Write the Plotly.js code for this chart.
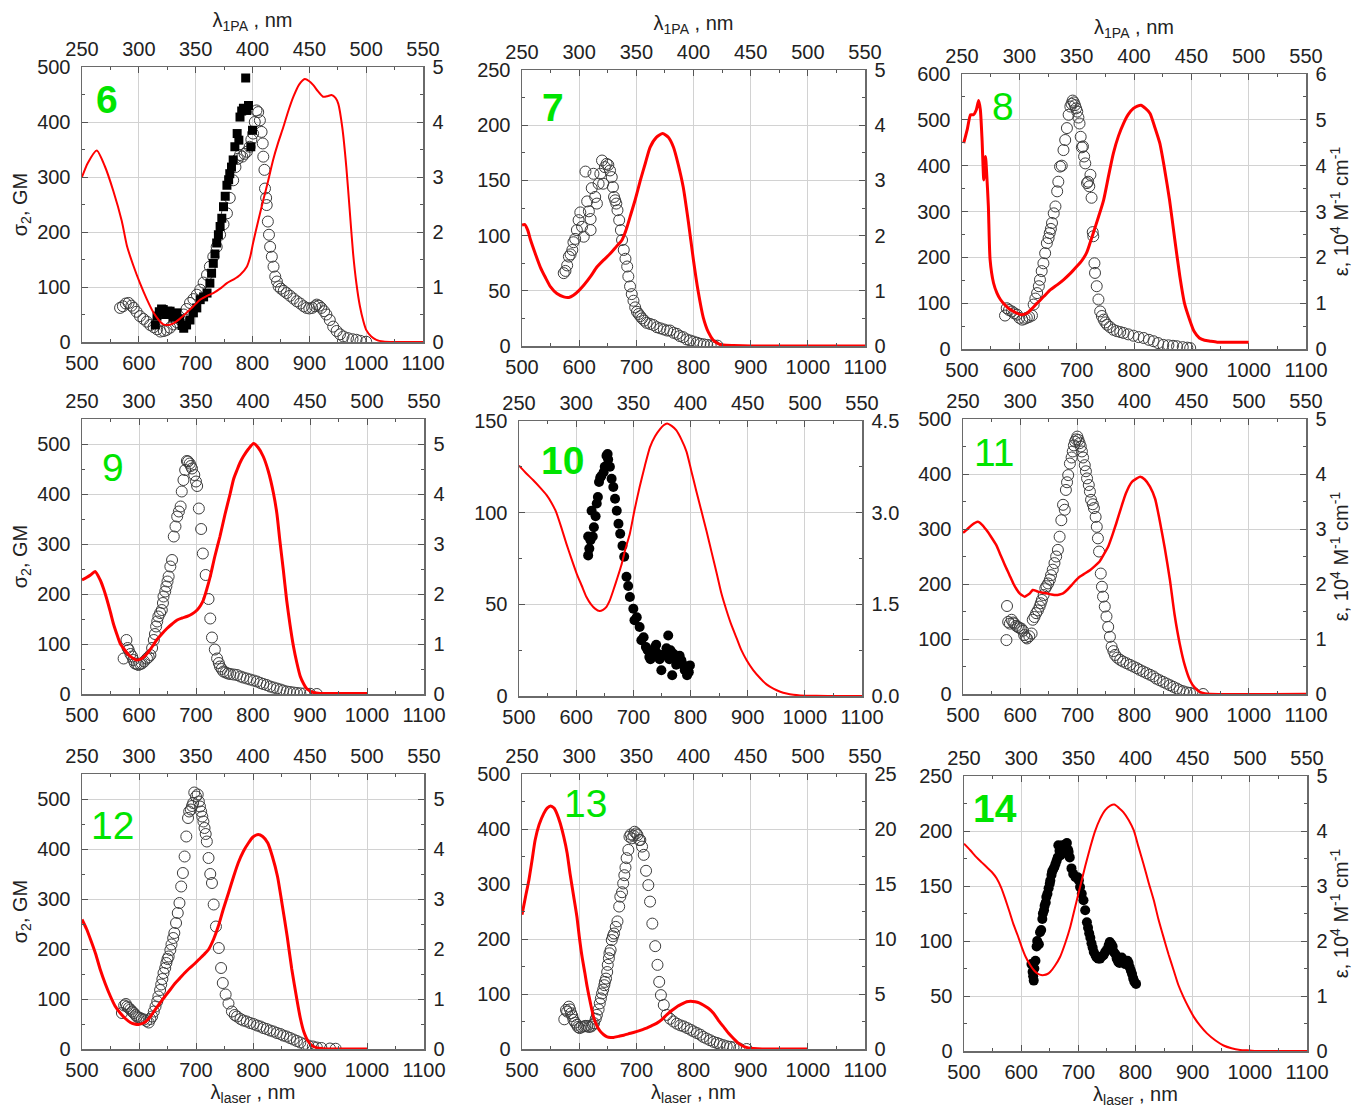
<!DOCTYPE html>
<html><head><meta charset="utf-8">
<script src="https://cdn.plot.ly/plotly-3.0.1.min.js"></script>
<style>html,body{margin:0;padding:0;background:#fff}#chart{width:1352px;height:1108px}</style>
</head><body><div id="chart"></div>
<script>
// ---------- DATA (red: lambda_1PA nm vs epsilon, 10^4 M-1 cm-1; markers: lambda_laser nm vs sigma2, GM) ----------
const p6_red_x = [250,255,263,270,277.5,285,289.5,295,301,307,313,317.5,321.5,326,330.5,336,342,348,354,360,365.5,371.5,377.5,383.5,389,395,398,400.5,405,409.5,414,418,422.5,427,431.5,436,441,446,450,453.5,457.5,462,466,469.5,473,475.5,479,482.5,485.5,488.5,491.5,494.5,497.5,500,504.5,509,515,525,550];
const p6_red_y = [3.0,3.25,3.48,3.2,2.75,2.2,1.75,1.4,1.07,0.78,0.53,0.4,0.32,0.31,0.34,0.42,0.53,0.65,0.77,0.84,0.89,0.97,1.07,1.14,1.22,1.37,1.55,1.8,2.2,2.58,2.95,3.3,3.62,3.9,4.2,4.46,4.68,4.78,4.74,4.67,4.56,4.46,4.47,4.49,4.44,4.33,3.9,3.19,2.4,1.61,1.05,0.65,0.38,0.22,0.1,0.04,0.01,0,0];
const p6_open_x = [567,572,577,582,587,591,596,602,608,614,620,626,632,638,644,649,655,661,667,673,679,684,690,696,702,708,714,720,725,731,737,743,749,755,760,766,770,774,778,782,786,790,795,798,801,804,807,810,813,816,818,819,821,822,824,825,827,829,831,834,837,840,843,846,850,855,860,866,872,878,884,890,895,900,905,910,913,917,921,926,930,936,942,948,954,960,968,976,983,990,1000];
const p6_open_y = [62,65,70,71,66,62,55,47,42,37,31,27,23,19,20,22,26,32,36,40,50,60,71,78,86,95,108,122,137,155,173,195,214,234,262,294,318,333,340,337,342,346,355,368,379,400,421,418,403,382,361,337,313,279,262,249,219,195,173,155,137,119,110,101,97,93,89,84,79,74,70,65,62,61,62,65,68,66,62,56,50,40,28,20,14,10,7,5,4,2,0.5];
const p6_fill_x = [629,632,636,640,643,647,651,655,660,664,667,672,676,679,684,690,696,702,708,714,720,725,728,731,734,737,740,743,746,749,752,755,758,760,763,766,769,773,776,778,781,784,788,790,793,797,800];
const p6_fill_y = [31,47,55,60,59,50,56,56,45,50,53,42,30,25,31,40,53,62,77,82,89,107,125,143,160,180,195,210,225,246,265,285,295,306,318,331,355,379,367,409,420,425,480,421,430,355,385];

const p7_red_x = [250,252.5,255,257.5,261.5,266,270.5,275,280.5,286.5,291,295,299.5,304,310,315.5,321.5,327,332.5,337.5,341,344.5,349,353.5,358,362,367.5,373,378,382.5,386.5,391,395.5,400,404,408.5,413,417.5,422,426,435,450,550];
const p7_red_y = [2.19,2.2,2.1,1.92,1.68,1.43,1.24,1.07,0.95,0.89,0.88,0.92,1.0,1.1,1.26,1.43,1.56,1.67,1.8,1.92,2.1,2.34,2.65,3.0,3.32,3.6,3.78,3.85,3.78,3.6,3.3,2.88,2.25,1.55,1.0,0.52,0.25,0.1,0.04,0.02,0.01,0,0];
const p7_open_x = [573,576,579,582,585,588,590,593,596,599,602,605,608,611,614,617,620,620,622,625,628,631,634,637,640,642,645,648,651,654,657,659,661,663,665,667,670,673,675,678,681,684,686,689,692,695,698,701,704,707,710,714,718,724,730,736,742,748,754,759,765,771,776,782,788,794,800,806,812,818,824,830,836,842];
const p7_open_y = [66,68,73,81,83,87,94,97,105,114,121,108,99,158,131,122,105,115,143,156,135,129,147,156,168,147,162,165,164,159,153,144,135,132,129,123,114,105,96,87,79,72,63,54,47,41,35,31,29,27,25,23,21,20,19,17,16,15,14,14,12,11,9,8,6,5,4,3,2,1.5,1,0.7,0.5,0.3];

const p8_red_x = [251.5,254.5,257.5,260,262.5,264.5,266,267.5,269,270.5,271.5,273,274.5,277.5,280.5,283.5,287.5,292,296.5,301,306.5,311,315.5,321.5,327,333,338.5,344.5,350,354.5,358.5,361.5,364.5,369,373.5,378,382,386.5,391,395,399.5,403,406,410,414,418,422.5,426.5,431,435.5,440,444,448.5,452.5,457,461.5,466.5,472.5,478,490,500];
const p8_red_y = [4.49,4.78,5.11,5.11,5.22,5.42,5.22,4.56,3.69,4.2,3.84,3.11,1.95,1.44,1.22,1.08,0.96,0.86,0.8,0.75,0.78,0.88,1.0,1.15,1.29,1.4,1.51,1.65,1.8,1.93,2.09,2.3,2.53,2.88,3.25,3.8,4.27,4.65,4.93,5.12,5.25,5.3,5.32,5.25,5.14,4.85,4.49,3.95,3.25,2.4,1.58,1.0,0.64,0.38,0.24,0.19,0.17,0.15,0.15,0.15,0.15];
const p8_open_x = [575,578,582,587,591,596,600,605,609,613,617,622,625,628,631,634,636,639,642,645,648,651,653,655,657,660,663,666,668,671,674,677,680,683,686,689,691,693,695,697,699,701,703,705,707,709,711,713,715,718,720,722,724,726,728,729,731,732,735,738,741,744,747,750,753,758,764,770,776,782,790,799,808,817,826,834,842,851,860,868,875,885,893,898];
const p8_open_y = [73,89,85,82,78,75,68,64,66,68,70,73,97,110,122,137,151,170,187,209,231,242,253,262,275,296,311,344,365,398,400,434,456,482,511,529,535,542,538,532,525,518,505,492,463,440,442,420,405,362,365,355,380,330,255,246,187,166,137,108,82,72,64,58,53,48,42,39,37,35,32,29,26,24,20,17,13,9,8,7,6,4,3,2];

const p9_red_x = [250,254,257.5,261.5,266,269,272,275,277.5,280.5,283.5,287.5,291,295,298,302.5,305.5,308.5,312,315.5,320,324.5,329,333.5,338,342,346.5,351,354,356.5,359.5,362.5,366.5,371,375.5,380,383,386,388.5,391.5,396,400.5,404.5,409,413.5,418,421,423.5,426.5,429.5,432.5,435.5,438.5,441.5,444.5,447,450,453,459,464.5,500];
const p9_red_y = [2.28,2.33,2.38,2.45,2.28,2.1,1.88,1.63,1.41,1.2,1.01,0.88,0.78,0.71,0.68,0.71,0.77,0.85,0.96,1.08,1.2,1.31,1.4,1.48,1.52,1.55,1.6,1.68,1.77,1.88,2.1,2.35,2.75,3.15,3.6,4.01,4.3,4.48,4.62,4.75,4.9,5.01,4.93,4.75,4.45,4.01,3.6,3.08,2.5,1.88,1.38,0.95,0.62,0.35,0.2,0.11,0.06,0.03,0.01,0.01,0.01];
const p9_open_x = [573,578,580,582,585,588,590,593,596,599,602,605,609,614,617,620,623,626,628,630,632,634,637,640,642,643,646,648,650,652,655,658,661,664,667,670,673,675,678,681,684,686,689,691,693,697,700,702,705,709,712,717,722,725,728,733,737,740,742,745,748,752,756,760,766,772,778,783,789,795,801,807,813,818,824,830,836,842,848,853,859,865,871,877,883,890,900,912];
const p9_open_y = [71,108,92,88,80,75,68,61,60,58,60,61,65,71,74,78,92,108,120,135,145,155,162,168,182,195,205,215,225,235,255,268,315,335,355,365,375,405,428,448,466,465,461,456,451,438,425,416,371,330,281,238,190,151,113,89,71,62,55,50,45,43,41,40,39,38,35,33,31,29,27,25,22,20,18,15,13,11,9,7,5,4,3,2,1.3,1,0.5,0];

const p10_red_x = [250,256,262.5,268.5,274,278.5,282.5,287,291.5,296,300.5,305,309,313,316.5,320.5,323.5,326.5,329.5,332.5,336,339.5,343,347,351,355.5,360,364.5,369,373.5,376.5,379.5,383.5,387.5,392,396.5,400.5,405,409.5,414,418.5,423,427,431.5,436,440.5,444.5,449,455,461,466.5,472.5,478.5,484,490,496,510,530,550];
const p10_red_y = [3.77,3.65,3.53,3.41,3.29,3.16,3.01,2.76,2.49,2.24,2.0,1.8,1.62,1.5,1.43,1.39,1.41,1.46,1.57,1.73,1.93,2.14,2.4,2.66,3.04,3.42,3.76,4.07,4.25,4.37,4.43,4.46,4.42,4.35,4.2,4.0,3.7,3.36,3.03,2.7,2.35,2.0,1.68,1.4,1.15,0.94,0.75,0.59,0.42,0.29,0.19,0.12,0.07,0.04,0.02,0.01,0.003,0,0];
const p10_fill_x = [621,623,621,627,629,631,634,638,640,644,648,653,656,659,662,665,668,671,674,677,681,684,688,691,694,700,702,706,711,714,718,722,728,732,738,743,749,755,761,765,768,772,778,784,790,794,796,799,625,636,642,650,655,725,730,735,740,746,752,758,763,770,775,781,787,792,797];
const p10_fill_y = [76.7,80.4,87,101,87,92,98,108.5,116.7,120,122,131,129,125,118.5,114,107.6,101,94,88.5,82,76,65,60,54,47.6,41.3,43,37.6,30.4,32,26.7,21.3,24,26.7,23,14,23,33,25,11.3,21.3,18.5,19.5,14,11.3,14,16.7,85,105,119,125,132,25,20,22,28,20,22,26,20,23,17,22,17,15,13];

const p11_red_x = [250,254,257.5,263,266.5,270.5,274.5,279,283,286.5,290.5,294,297,299.5,302,304,306.5,308.5,311,313.5,315.5,319.5,323,327.5,331.5,334.5,337.5,341.5,345,348.5,352,356.5,361,365.5,369.5,373.5,377,380.5,384,388.5,392.5,397.5,402,405,409,413.5,418,422,426.5,431,435,439.5,444,448.5,452.5,457,461.5,466,550];
const p11_red_y = [2.93,3.0,3.07,3.13,3.08,2.98,2.86,2.71,2.52,2.35,2.17,2.01,1.9,1.83,1.79,1.77,1.8,1.83,1.89,1.88,1.86,1.84,1.83,1.81,1.8,1.81,1.83,1.9,1.98,2.06,2.13,2.19,2.25,2.33,2.41,2.55,2.68,2.88,3.1,3.4,3.65,3.85,3.92,3.95,3.9,3.77,3.55,3.16,2.65,2.07,1.45,0.92,0.52,0.25,0.12,0.04,0.01,0,0];
const p11_open_x = [576,577,579,582,585,588,590,593,596,599,602,605,607,610,612,616,620,622,625,628,631,634,636,638,641,644,646,649,652,654,657,660,663,666,669,672,675,678,680,682,684,687,690,692,694,696,698,700,702,704,706,708,710,713,715,717,720,722,724,727,729,732,734,736,738,741,743,745,748,751,754,757,760,763,766,770,775,780,786,792,798,804,809,815,821,827,833,838,844,850,856,862,868,874,879,885,891,897,905,920];
const p11_open_y = [98,160,131,128,135,130,128,124,122,120,119,115,107,103,101,105,110,135,140,147,152,159,165,171,180,192,196,201,208,216,226,238,250,262,286,316,344,335,371,385,398,419,430,441,452,459,463,468,462,456,450,441,430,416,405,392,380,368,353,345,338,322,304,283,259,219,195,177,159,141,122,104,86,78,71,66,62,59,56,53,50,47,44,41,38,35,32,28,25,22,19,16,13,10,7,5,3,2,1,0];

const p12_red_x = [250,254,257.5,262,266,270.5,275,279,283.5,288,292.5,296,299.5,304,307,310,314,318.5,323,327.5,331.5,336,340,344.5,348.5,352.5,357,361,365.5,369.5,374,378.5,383,387,391.5,396,400,404.5,408.5,413,417,421.5,425.5,430,434,438.5,441.5,444.5,448.5,453,460,467.5,500];
const p12_red_y = [2.59,2.4,2.19,1.9,1.59,1.3,1.05,0.86,0.72,0.61,0.53,0.5,0.49,0.52,0.57,0.65,0.78,0.92,1.06,1.19,1.31,1.42,1.52,1.62,1.7,1.79,1.89,1.99,2.2,2.45,2.8,3.12,3.45,3.72,3.95,4.12,4.24,4.29,4.25,4.12,3.85,3.45,2.9,2.25,1.6,0.99,0.62,0.35,0.15,0.05,0.01,0,0];
const p12_open_x = [570,574,577,579,582,585,588,591,594,596,599,602,605,609,613,617,620,623,626,629,632,634,637,639,641,643,646,648,650,652,655,657,660,662,665,668,671,674,677,680,683,686,688,691,693,695,697,700,703,705,707,709,711,713,715,717,719,722,725,728,731,735,740,744,747,752,757,763,768,772,778,783,789,795,801,807,813,818,824,830,836,842,848,853,859,865,871,877,883,890,897,905,912,920,935,945];
const p12_open_y = [72,87,90,85,82,79,75,72,68,65,63,62,60,59,56,53,60,65,75,85,95,105,118,129,140,152,162,172,180,185,198,209,222,232,252,272,292,325,352,385,425,462,475,479,486,492,513,505,509,495,485,475,465,455,442,430,415,382,350,332,289,245,202,162,132,109,91,75,68,65,60,57,55,52,50,47,45,42,40,37,35,32,30,27,25,22,19,16,13,10,7,5,3,2,1,0.5];

const p13_red_x = [250,253,256,259,261.5,265,269,272,275,278,280.5,283.5,286.5,289.5,292,295,298,300,302.5,305,307,310,312.5,315.5,318.5,321.5,324.5,327.5,330,334.5,339,343,347.5,353.5,359,363.5,368,372.5,376.5,381,385.5,390,394,397.5,401.5,405,408.5,413,417.5,421.5,426,430.5,435,439,443.5,448,452.5,460,500];
const p13_red_y = [12.2,13.8,15.35,17.3,19.0,20.4,21.4,21.9,22.1,21.9,21.4,20.5,19.3,17.8,15.95,14.0,12.05,10.3,8.4,6.9,5.65,4.1,2.95,2.1,1.6,1.3,1.1,1.05,1.05,1.15,1.25,1.38,1.5,1.7,1.9,2.12,2.35,2.7,3.1,3.5,3.85,4.1,4.3,4.35,4.3,4.2,4.0,3.7,3.25,2.65,2.05,1.45,0.95,0.55,0.25,0.1,0.05,0.01,0];
const p13_open_x = [574,577,579,582,584,586,588,590,593,596,598,601,604,608,611,614,617,621,624,626,629,631,634,636,638,640,642,644,645,647,649,650,652,653,655,657,659,661,664,667,670,672,675,677,679,681,683,686,688,690,692,695,697,700,702,705,707,710,713,717,721,724,728,733,737,740,743,748,753,759,765,771,777,783,789,795,800,806,812,817,823,829,835,841,846,852,858,864,870,880,893];
const p13_open_y = [54,71,68,77,72,65,60,53,48,44,40,38,40,41,42,42,40,41,44,47,55,62,72,83,92,101,108,116,122,128,140,153,165,174,180,198,205,210,222,232,259,277,285,301,316,330,347,362,386,390,383,388,395,392,389,380,380,368,353,324,298,268,228,187,153,122,98,80,62,55,50,46,43,41,38,35,32,29,26,22,19,16,13,11,9,7,5,4,3,1,0];

const p14_red_x = [250,255.5,261,265.5,270,274.5,278.5,282.5,286,289.5,293,297,300.5,304,308,311.5,315,317.5,320,323,325.5,329.5,334,338.5,343,347,351.5,356,360.5,364.5,369,373.5,378,381.5,385.5,389.5,394,398.5,402.5,407,411.5,416,420,424.5,429,433.5,437.5,442,446.5,451,456.5,462.5,470,477,484,491.5,500,506,550];
const p14_red_y = [3.77,3.65,3.52,3.43,3.34,3.25,3.14,2.97,2.77,2.55,2.32,2.1,1.89,1.71,1.56,1.46,1.4,1.38,1.38,1.4,1.44,1.55,1.71,1.96,2.26,2.6,2.98,3.36,3.71,3.99,4.22,4.38,4.46,4.48,4.42,4.34,4.2,4.01,3.72,3.4,3.06,2.74,2.4,2.07,1.75,1.46,1.2,0.98,0.79,0.62,0.46,0.32,0.19,0.1,0.05,0.02,0.01,0,0];
const p14_fill_x = [618,620,621,622,623,625,627,628,631,633,635,637,638,640,641,643,644,646,648,650,651,653,654,656,658,660,662,664,665,667,669,671,672,674,676,678,680,682,683,685,688,691,695,699,701,703,706,709,712,715,717,719,721,723,725,727,730,732,735,738,741,744,747,750,753,755,758,760,762,765,767,770,772,774,776,779,782,784,786,788,790,792,794,796,798,801];
const p14_fill_y = [79,72,68,64,75,82,95,100,97,108,110,120,125,128,132,135,140,143,148,152,155,160,163,165,167,170,173,176,187,182,178,180,187,186,187,188,189,183,181,176,166,161,158,158,155,149,143,137,128,117,112,107,103,98,94,90,87,85,84,84,86,87,90,92,96,99,97,95,90,88,84,81,80,83,85,82,79,80,82,80,76,73,70,66,63,61];

const panelLabels = ['6','7','8','9','10','11','12','13','14'];
const laserTicks = [500,600,700,800,900,1000,1100];
const onePATicks = [250,300,350,400,450,500,550];

// ---------- LAYOUT / STYLE ----------
const W = 1352, H = 1108;
const series = [
  {red:[p6_red_x,p6_red_y], open:[p6_open_x,p6_open_y], fill:[p6_fill_x,p6_fill_y], sym:'square'},
  {red:[p7_red_x,p7_red_y], open:[p7_open_x,p7_open_y]},
  {red:[p8_red_x,p8_red_y], open:[p8_open_x,p8_open_y]},
  {red:[p9_red_x,p9_red_y], open:[p9_open_x,p9_open_y]},
  {red:[p10_red_x,p10_red_y], fill:[p10_fill_x,p10_fill_y], sym:'circle'},
  {red:[p11_red_x,p11_red_y], open:[p11_open_x,p11_open_y]},
  {red:[p12_red_x,p12_red_y], open:[p12_open_x,p12_open_y]},
  {red:[p13_red_x,p13_red_y], open:[p13_open_x,p13_open_y]},
  {red:[p14_red_x,p14_red_y], fill:[p14_fill_x,p14_fill_y], sym:'circle'}
];
const cfg = [
  {box:[82,67,423,342],  yL:[0,500,100], yR:[0,5,1],   lab:[107,99],  bold:true,  lw:2},
  {box:[522,70,865,346], yL:[0,250,50],  yR:[0,5,1],   lab:[553,107], bold:true,  lw:3},
  {box:[962,74,1306,349],yL:[0,600,100], yR:[0,6,1],   lab:[1003,106],bold:false, lw:3},
  {box:[82,419,424,694], yL:[0,550,100], yR:[0,5.5,1], lab:[113,467], bold:false, lw:3},
  {box:[519,421,862,696],yL:[0,150,50],  yR:[0,4.5,1.5],lab:[562,460],bold:true,  lw:2, fmt:'.1f'},
  {box:[963,419,1306,694],yL:[0,500,100],yR:[0,5,1],   lab:[995,452], bold:false, lw:2.5},
  {box:[82,774,424,1049],yL:[0,550,100], yR:[0,5.5,1], lab:[112,825], bold:false, lw:3},
  {box:[522,774,865,1049],yL:[0,500,100],yR:[0,25,5],  lab:[585,803], bold:false, lw:3},
  {box:[964,776,1307,1051],yL:[0,250,50],yR:[0,5,1],   lab:[995,808], bold:true,  lw:2}
];

const FONT = 'Liberation Sans, Arial, sans-serif';
const tickFont = {family:FONT, size:20, color:'#222'};
const titleFont = {family:FONT, size:20, color:'#222'};
const base = {showline:true, linecolor:'#6a6a6a', linewidth:1.5, ticks:'inside', ticklen:6,
  tickcolor:'#555', tickwidth:1, zeroline:false, tickfont:tickFont, fixedrange:true};

function axKey(t,n){return n===1 ? t+'axis' : t+'axis'+n;}
function axRef(t,n){return n===1 ? t : t+n;}

const layout = {width:W, height:H, margin:{l:0,r:0,t:0,b:0}, paper_bgcolor:'#fff', plot_bgcolor:'#fff',
  showlegend:false, font:{family:FONT, color:'#222'}, annotations:[]};
const traces = [];

cfg.forEach((c,k)=>{
  const row = Math.floor(k/3), col = k%3;
  const nB = 2*k+1, nT = 2*k+2;
  const [x0,y0,x1,y1] = c.box;
  const xb = Object.assign({}, base, {
    domain:[x0/W, x1/W], anchor:axRef('y',nB), range:[500,1100], tickmode:'array', tickvals:laserTicks,
    showgrid:true, gridcolor:'#d2d2d2', gridwidth:1, ticklabelstandoff:2,
    minor:{ticks:'inside', ticklen:3, dtick:50, tick0:500, tickcolor:'#555', showgrid:false}
  });
  if (row===2) xb.title = {text:'λ<sub>laser</sub> , nm', font:titleFont, standoff:2};
  layout[axKey('x',nB)] = xb;

  const xt = Object.assign({}, base, {
    overlaying:axRef('x',nB), side:'top', anchor:axRef('y',nB), range:[250,550], tickmode:'array', tickvals:onePATicks,
    showgrid:false, ticklabelstandoff:2,
    minor:{ticks:'inside', ticklen:3, dtick:25, tick0:250, tickcolor:'#555', showgrid:false}
  });
  if (row===0) xt.title = {text:'λ<sub>1PA</sub> , nm', font:titleFont, standoff:4};
  layout[axKey('x',nT)] = xt;

  const yl = Object.assign({}, base, {
    domain:[1-y1/H, 1-y0/H], anchor:axRef('x',nB), range:[c.yL[0],c.yL[1]], dtick:c.yL[2], tick0:0,
    showgrid:true, gridcolor:'#d2d2d2', gridwidth:1, ticklabelstandoff:6,
    minor:{ticks:'inside', ticklen:3, dtick:c.yL[2]/2, tick0:0, tickcolor:'#555', showgrid:false}
  });
  if (col===0) yl.title = {text:'σ<sub>2</sub>, GM', font:titleFont, standoff:4};
  layout[axKey('y',nB)] = yl;

  const yr = Object.assign({}, base, {
    overlaying:axRef('y',nB), side:'right', anchor:axRef('x',nB), range:[c.yR[0],c.yR[1]], dtick:c.yR[2], tick0:0,
    showgrid:false, ticklabelstandoff:4,
    minor:{ticks:'inside', ticklen:3, dtick:c.yR[2]/2, tick0:0, tickcolor:'#555', showgrid:false}
  });
  if (c.fmt) yr.tickformat = c.fmt;
  if (col===2) yr.title = {text:'ε, 10<sup>4</sup> M<sup>-1</sup> cm<sup>-1</sup>', font:titleFont, standoff:8};
  layout[axKey('y',nT)] = yr;

  const s = series[k];
  if (s.open) traces.push({type:'scatter', mode:'markers', x:s.open[0], y:s.open[1],
    xaxis:axRef('x',nB), yaxis:axRef('y',nB),
    marker:{symbol:'circle-open', size:11, color:'#3c3c3c', line:{width:1, color:'#3c3c3c'}}, hoverinfo:'skip'});
  if (s.fill) traces.push({type:'scatter', mode:'markers', x:s.fill[0], y:s.fill[1],
    xaxis:axRef('x',nB), yaxis:axRef('y',nB),
    marker:{symbol:s.sym, size:s.sym==='square'?9:10, color:'#000', line:{width:0}}, hoverinfo:'skip'});
  traces.push({type:'scatter', mode:'lines', x:s.red[0], y:s.red[1],
    xaxis:axRef('x',nT), yaxis:axRef('y',nT), line:{color:'#ff0000', width:c.lw, shape:'spline', smoothing:0.6}, hoverinfo:'skip'});

  const txt = c.bold ? '<b>'+panelLabels[k]+'</b>' : panelLabels[k];
  layout.annotations.push({xref:'paper', yref:'paper', x:c.lab[0]/W, y:1-c.lab[1]/H, xanchor:'center', yanchor:'middle',
    text:txt, showarrow:false, font:{family:FONT, size:39, color:'#00e400'}});
});

Plotly.newPlot('chart', traces, layout, {staticPlot:true, displayModeBar:false});
</script>
</body></html>
